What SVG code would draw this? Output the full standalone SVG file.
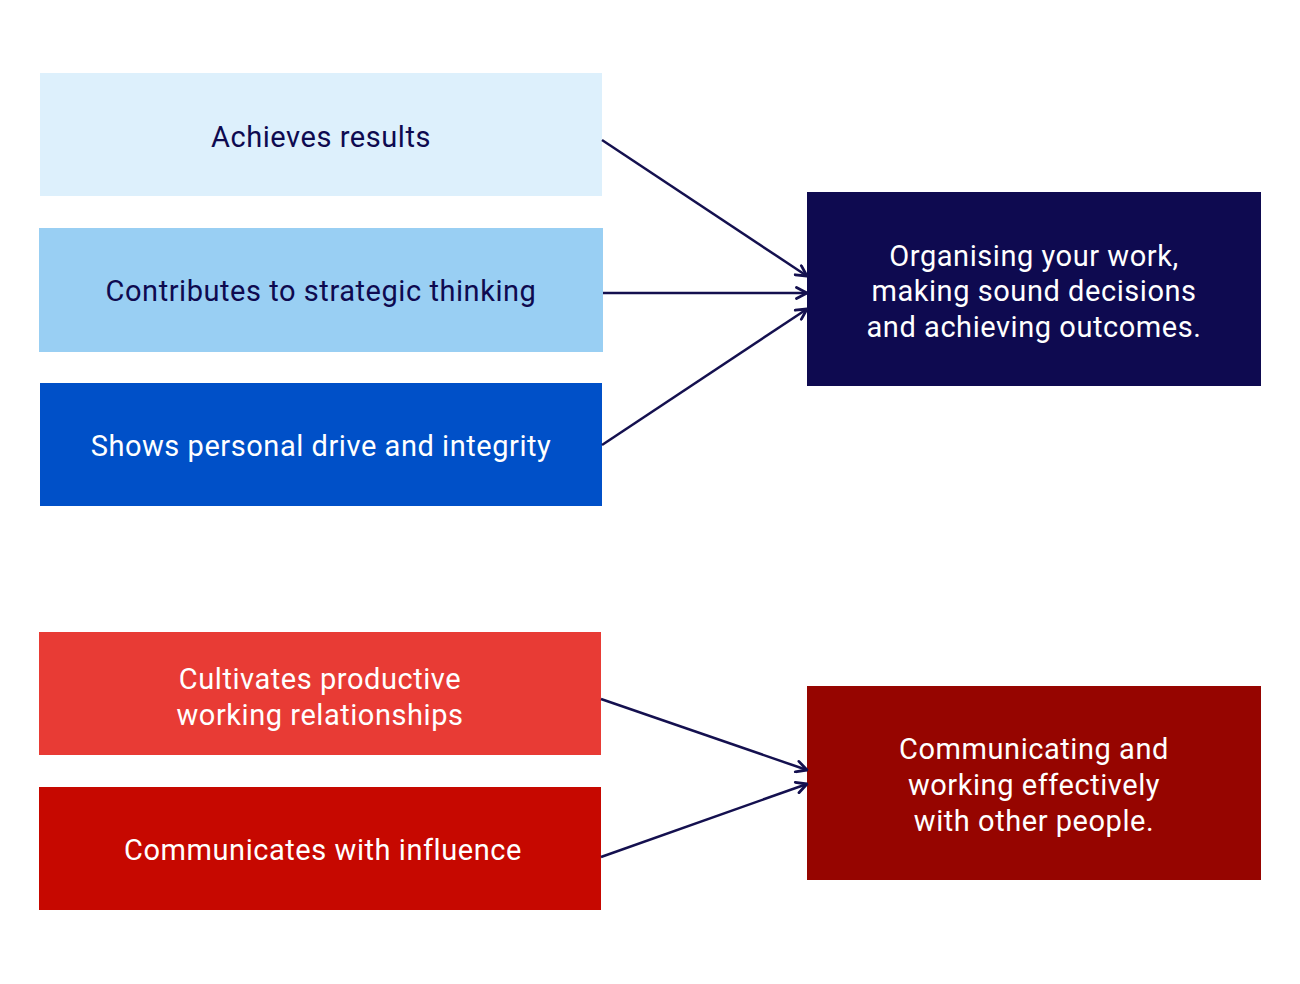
<svg xmlns="http://www.w3.org/2000/svg" width="1300" height="984" viewBox="0 0 1300 984">
<style>
text{font-family:Roboto,"Liberation Sans",sans-serif;font-size:29px;text-anchor:middle;letter-spacing:0.55px}
.d{fill:#0E0A50}
.w{fill:#FFFFFF}
.c{fill:none;stroke:#14104F;stroke-width:2.5}
</style>
<defs>
<marker id="ah" viewBox="0 0 14 14" refX="12.5" refY="7" markerWidth="14" markerHeight="14" markerUnits="userSpaceOnUse" orient="auto">
<path d="M2,1.5 L12.5,7 L2,12.5" fill="none" stroke="#14104F" stroke-width="2.8" stroke-linecap="round" stroke-linejoin="round"/>
</marker>
</defs>
<rect width="1300" height="984" fill="#FFFFFF"/>
<g id="n1"><rect x="40" y="73" width="562" height="123" fill="#DDF0FC"/><text class="d" x="321" y="147">Achieves results</text></g>
<g id="n2"><rect x="39" y="228" width="564" height="124" fill="#99CFF3"/><text class="d" x="321" y="301">Contributes to strategic thinking</text></g>
<g id="n3"><rect x="40" y="383" width="562" height="123" fill="#0050C8"/><text class="w" x="321" y="456">Shows personal drive and integrity</text></g>
<g id="n4"><rect x="39" y="632" width="562" height="123" fill="#E83B35"/><text class="w" x="320" y="689">Cultivates productive</text><text class="w" x="320" y="725">working relationships</text></g>
<g id="n5"><rect x="39" y="787" width="562" height="123" fill="#C60800"/><text class="w" x="323" y="860">Communicates with influence</text></g>
<g id="n6"><rect x="807" y="192" width="454" height="194" fill="#0E0A50"/><text class="w" x="1034" y="266">Organising your work,</text><text class="w" x="1034" y="301">making sound decisions</text><text class="w" x="1034" y="337">and achieving outcomes.</text></g>
<g id="n7"><rect x="807" y="686" width="454" height="194" fill="#960500"/><text class="w" x="1034" y="759">Communicating and</text><text class="w" x="1034" y="795">working effectively</text><text class="w" x="1034" y="831">with other people.</text></g>
<g id="connectors">
<line class="c" x1="602" y1="140" x2="807" y2="276" marker-end="url(#ah)"/>
<line class="c" x1="603" y1="293" x2="807" y2="293" marker-end="url(#ah)"/>
<line class="c" x1="602" y1="445" x2="807" y2="309" marker-end="url(#ah)"/>
<line class="c" x1="601" y1="699" x2="807" y2="770" marker-end="url(#ah)"/>
<line class="c" x1="601" y1="857" x2="807" y2="784" marker-end="url(#ah)"/>
</g>
</svg>
